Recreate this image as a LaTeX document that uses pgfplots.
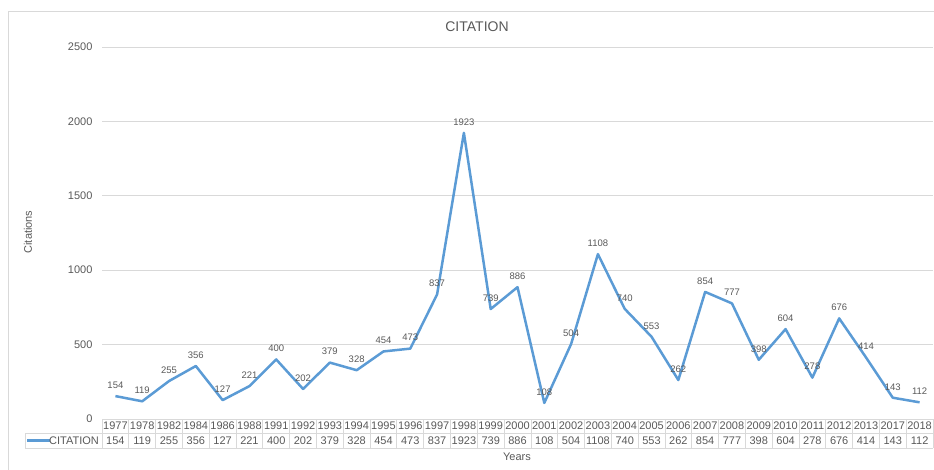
\documentclass[border=0pt]{standalone}
\usepackage{pgfplots}
\pgfplotsset{compat=1.18}
\usepackage{fontspec}
\setmainfont{Liberation Sans}
\definecolor{xlblue}{HTML}{5B9BD5}
\definecolor{xlgrid}{HTML}{D9D9D9}
\definecolor{xltext}{HTML}{595959}
\pgfplotsset{/pgf/number format/1000 sep={}}

\begin{document}
\begin{tikzpicture}[x=1pt,y=1pt]
\useasboundingbox (0,0) rectangle (934,470);
% chart frame
\draw[xlgrid, line width=0.8pt] (8,0) -- (8,459) -- (934,459);
% title and axis titles
\node[text=xltext, font=\fontsize{14}{16}\selectfont] at (477,443) {CITATION};
\node[text=xltext, font=\fontsize{11}{13}\selectfont, rotate=90] at (28,238) {Citations};
\node[text=xltext, font=\fontsize{11}{13}\selectfont] at (517,13) {Years};

\begin{axis}[
  at={(102pt,51pt)}, anchor=south west,
  scale only axis, width=831pt, height=372pt,
  xmin=-0.5, xmax=30.5, ymin=0, ymax=2500,
  ytick={0,500,...,2500},
  xtick={0,...,30},
  xticklabels={
    {1977\\154},{1978\\119},{1982\\255},{1984\\356},{1986\\127},{1988\\221},
    {1991\\400},{1992\\202},{1993\\379},{1994\\328},{1995\\454},{1996\\473},
    {1997\\837},{1998\\1923},{1999\\739},{2000\\886},{2001\\108},{2002\\504},
    {2003\\1108},{2004\\740},{2005\\553},{2006\\262},{2007\\854},{2008\\777},
    {2009\\398},{2010\\604},{2011\\278},{2012\\676},{2013\\414},{2017\\143},
    {2018\\112}},
  minor xtick={-0.5,0.5,...,30.5},
  xtick pos=bottom, ytick pos=left,
  tick align=outside,
  major tick length=0pt,
  minor tick length=29pt,
  minor tick style={xlgrid, line width=0.8pt},
  axis line style={draw=none},
  ymajorgrids,
  grid style={xlgrid, line width=0.8pt},
  /pgf/number format/assume math mode=true,
  yticklabel style={text=xltext, font=\fontsize{11}{13}\selectfont, xshift=-6pt},
  xticklabel style={text=xltext, font=\fontsize{11}{15}\selectfont, align=center, inner sep=0pt, yshift=-3pt},
  clip=false,
]
\addplot[xlblue, line width=2.5pt, line join=round, mark=none,
  nodes near coords,
  every node near coord/.append style={text=xltext, font=\fontsize{9.5}{11}\selectfont, anchor=south, yshift=3pt}]
  coordinates {
  (0,154) (1,119) (2,255) (3,356) (4,127) (5,221) (6,400) (7,202) (8,379)
  (9,328) (10,454) (11,473) (12,837) (13,1923) (14,739) (15,886) (16,108)
  (17,504) (18,1108) (19,740) (20,553) (21,262) (22,854) (23,777) (24,398)
  (25,604) (26,278) (27,676) (28,414) (29,143) (30,112)
  };
\end{axis}
% data table grid and legend key
\draw[xlgrid, line width=0.8pt] (102,37) -- (933,37);
\draw[xlgrid, line width=0.8pt] (25,22) -- (933,22);
\draw[xlgrid, line width=0.8pt] (25,22) rectangle (102,37);
\draw[xlblue, line width=2.5pt] (27,29.5) -- (50,29.5);
\node[anchor=east, text=xltext, font=\fontsize{11}{13}\selectfont, inner sep=0pt] at (99,29.5) {CITATION};
\end{tikzpicture}
\end{document}
